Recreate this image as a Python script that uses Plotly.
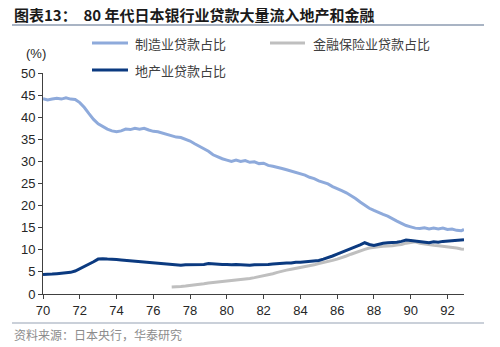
import plotly.graph_objects as go

# Decimal years (quarterly readings), 1970 - 1992
years = [70 + 0.25 * i for i in range(92)] + [92.9]

manufacturing = [
    44.2, 43.9, 44.1, 44.3, 44.1, 44.4, 44.1, 44.0, 43.3, 42.2, 40.8, 39.5,
    38.5, 37.9, 37.3, 36.9, 36.7, 36.9, 37.3, 37.2, 37.5, 37.3, 37.5, 37.1,
    36.8, 36.7, 36.4, 36.2, 35.9, 35.5, 35.4, 35.0, 34.6, 34.0, 33.4, 32.9,
    32.3, 31.5, 31.0, 30.6, 30.3, 30.0, 30.3, 30.0, 30.2, 29.8, 29.9, 29.5,
    29.6, 29.1, 28.9, 28.7, 28.4, 28.1, 27.8, 27.5, 27.2, 26.9, 26.4, 26.1,
    25.6, 25.2, 24.9, 24.3, 23.9, 23.4, 22.9, 22.3, 21.6, 20.8, 20.1, 19.4,
    18.9, 18.4, 18.0, 17.6, 17.0, 16.5, 16.0, 15.5, 15.2, 14.9, 14.8, 15.0,
    14.7, 14.9, 14.7, 14.9, 14.6, 14.7, 14.4, 14.3, 14.6,
]

real_estate = [
    4.4, 4.4, 4.5, 4.6, 4.7, 4.8, 4.9, 5.2, 5.7, 6.2, 6.7, 7.3,
    7.9, 8.0, 7.9, 7.9, 7.8, 7.7, 7.6, 7.5, 7.4, 7.3, 7.3, 7.2,
    7.1, 7.0, 6.9, 6.8, 6.7, 6.6, 6.5, 6.6, 6.6, 6.6, 6.7, 6.7,
    6.9, 6.8, 6.8, 6.7, 6.7, 6.6, 6.7, 6.6, 6.6, 6.5, 6.6, 6.6,
    6.6, 6.7, 6.8, 6.9, 6.9, 7.0, 7.0, 7.2, 7.2, 7.3, 7.4, 7.5,
    7.6, 7.9, 8.2, 8.6, 9.0, 9.4, 9.9, 10.3, 10.6, 11.1, 11.6, 11.2,
    11.0, 11.3, 11.5, 11.6, 11.6, 11.7, 11.9, 12.2, 12.1, 12.0, 11.9, 11.8,
    11.6, 11.8, 11.7, 11.9, 12.0, 12.0, 12.2, 12.3, 12.3,
]

# Finance & insurance series starts in 1977
fin_years = [77 + 0.25 * i for i in range(64)] + [92.9]
finance = [
    1.6, 1.6, 1.7, 1.8, 1.9, 2.0, 2.2, 2.3, 2.5, 2.6, 2.7, 2.9,
    3.0, 3.1, 3.2, 3.3, 3.4, 3.5, 3.7, 3.9, 4.1, 4.4, 4.6, 4.9,
    5.2, 5.4, 5.6, 5.8, 6.0, 6.1, 6.3, 6.6, 6.9, 7.1, 7.3, 7.6,
    7.9, 8.2, 8.6, 9.0, 9.4, 9.8, 10.1, 10.4, 10.6, 10.7, 10.8, 10.8,
    10.9, 11.1, 11.2, 11.5, 11.7, 11.8, 11.5, 11.3, 11.2, 11.0, 10.9, 10.8,
    10.7, 10.6, 10.4, 10.2, 10.1,
]

x_ticks = list(range(70, 93, 2))
x_tick_text = [str(v) for v in x_ticks]

names = ["制造业贷款占比", "金融保险业贷款占比", "地产业贷款占比"]
colors = ["#8EAADB", "#BFBFBF", "#0B3A80"]

title_text = "<b>图表13：  80 年代日本银行业贷款大量流入地产和金融</b>"
source_text = "资料来源：日本央行，华泰研究"

W, H = 500, 347
L, R, T, B = 43, 36, 73, 53
pw, ph = W - L - R, H - T - B


def px2x(px):
    return (px - L) / pw


def py2y(py):
    return (H - B - py) / ph


fig = go.Figure()
fig.add_trace(go.Scatter(x=years, y=manufacturing, mode="lines",
                         line=dict(color=colors[0], width=3), name=names[0]))
fig.add_trace(go.Scatter(x=fin_years, y=finance, mode="lines",
                         line=dict(color=colors[1], width=3), name=names[1]))
fig.add_trace(go.Scatter(x=years, y=real_estate, mode="lines",
                         line=dict(color=colors[2], width=3), name=names[2]))

cjk = "Noto Sans CJK SC"
axis_color = "#404040"

shapes = []
annotations = []

# Title and rules
annotations.append(dict(text=title_text, x=px2x(12), y=py2y(14), xref="paper", yref="paper",
                        xanchor="left", yanchor="middle", showarrow=False,
                        font=dict(family=cjk, size=15, color="#1a1a1a")))
shapes.append(dict(type="line", xref="paper", yref="paper",
                   x0=px2x(12), x1=px2x(484), y0=py2y(25), y1=py2y(25),
                   line=dict(color="#8C9BB0", width=1.5)))
shapes.append(dict(type="line", xref="paper", yref="paper",
                   x0=px2x(12), x1=px2x(484), y0=py2y(323), y1=py2y(323),
                   line=dict(color="#B8C0CC", width=1.5)))
annotations.append(dict(text=source_text, x=px2x(12), y=py2y(334), xref="paper", yref="paper",
                        xanchor="left", yanchor="middle", showarrow=False,
                        font=dict(family=cjk, size=12, color="#8C8C8C")))

# Unit label
annotations.append(dict(text="(%)", x=px2x(36), y=py2y(53), xref="paper", yref="paper",
                        xanchor="center", yanchor="middle", showarrow=False,
                        font=dict(family="Liberation Sans, Arial", size=13, color="#262626")))

# Legend entries
legend_pos = [(92, 128, 133, 43), (270, 305, 311, 43), (92, 128, 133, 70)]
for (lx0, lx1, tx, ly), name, col in zip(legend_pos, names, colors):
    shapes.append(dict(type="line", xref="paper", yref="paper",
                       x0=px2x(lx0), x1=px2x(lx1), y0=py2y(ly), y1=py2y(ly),
                       line=dict(color=col, width=3)))
    annotations.append(dict(text=name, x=px2x(tx), y=py2y(ly), xref="paper", yref="paper",
                            xanchor="left", yanchor="middle", showarrow=False,
                            font=dict(family=cjk, size=13, color="#404040")))

fig.update_layout(
    width=W, height=H,
    margin=dict(l=L, r=R, t=T, b=B),
    paper_bgcolor="white", plot_bgcolor="white",
    showlegend=False,
    shapes=shapes, annotations=annotations,
    xaxis=dict(range=[70, 92.9], tickmode="array", tickvals=x_ticks, ticktext=x_tick_text,
               showgrid=False, zeroline=False, showline=True, linecolor=axis_color, linewidth=1,
               ticks="outside", ticklen=4, tickcolor=axis_color,
               tickfont=dict(family="Liberation Sans, Arial", size=13, color="#262626")),
    yaxis=dict(range=[0, 50], tickmode="linear", tick0=0, dtick=5,
               showgrid=False, zeroline=False, showline=True, linecolor=axis_color, linewidth=1,
               ticks="outside", ticklen=4, tickcolor=axis_color,
               tickfont=dict(family="Liberation Sans, Arial", size=13, color="#262626")),
)

fig.write_html("out.html")
